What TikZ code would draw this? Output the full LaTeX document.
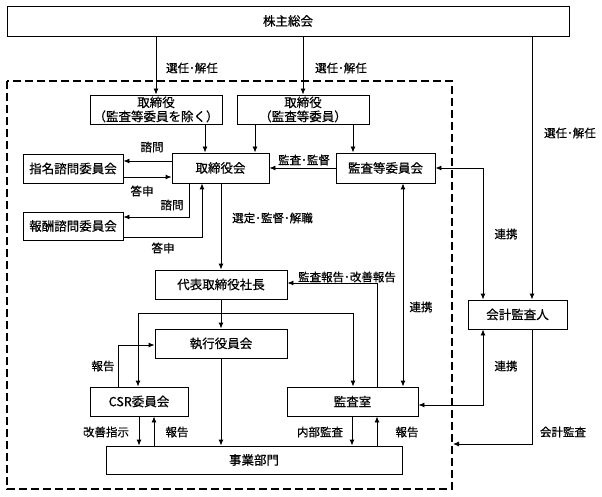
\documentclass[tikz,border=0pt]{standalone}
\usepackage{fontspec}
\setmainfont{Noto Sans CJK JP}[FakeBold=0.6]
\usetikzlibrary{arrows.meta}
\begin{document}
\begin{tikzpicture}[x=1pt,y=-1pt,
 box/.style={draw,line width=0.9pt,inner sep=0pt,font=\fontsize{12.5}{14}\selectfont,align=center},
 lbl/.style={font=\fontsize{11.5}{13}\selectfont,inner sep=0pt},
 arr/.style={line width=0.9pt,-{Latex[length=6pt,width=5pt]}},
 darr/.style={line width=0.9pt,{Latex[length=6pt,width=5pt]}-{Latex[length=6pt,width=5pt]}},
 frame/.style={line width=2pt,dash pattern=on 8pt off 4pt}]
\useasboundingbox (0,0) rectangle (602,497);
\fill[white] (0,0) rectangle (602,497);
% boxes
\node[box,minimum width=562,minimum height=30] (kabu) at (288,21) {株主総会};
\node[box,minimum width=132,minimum height=29] (tori1) at (156,109.5) {取締役\\（監査等委員を除く）};
\node[box,minimum width=132,minimum height=29] (tori2) at (303,109.5) {取締役\\（監査等委員）};
\node[box,minimum width=97,minimum height=30] (torikai) at (220.5,168) {取締役会};
\node[box,minimum width=100,minimum height=29] (shimei) at (73,168.5) {指名諮問委員会};
\node[box,minimum width=100,minimum height=28] (housyu) at (73,226) {報酬諮問委員会};
\node[box,minimum width=99,minimum height=30] (kansa) at (385.5,168) {監査等委員会};
\node[box,minimum width=132,minimum height=29] (daihyo) at (221,284.5) {代表取締役社長};
\node[box,minimum width=132,minimum height=29] (shikko) at (221,343.5) {執行役員会};
\node[box,minimum width=98,minimum height=29] (csr) at (139,401.5) {CSR委員会};
\node[box,minimum width=131,minimum height=29] (shitsu) at (352.5,401.5) {監査室};
\node[box,minimum width=296,minimum height=28] (jigyo) at (254,460) {事業部門};
\node[box,minimum width=99,minimum height=29] (kaikei) at (517.5,314.5) {会計監査人};
% dashed frame
\draw[frame] (7,81) rectangle (452,489);
% helper coordinates
\coordinate (xk) at (532,0);
\coordinate (x205) at (205,0);
\coordinate (x255) at (255,0);
\coordinate (x353) at (353,0);
\coordinate (y161) at (0,161);
\coordinate (y177) at (0,177);
\coordinate (x189) at (189,0);
\coordinate (y217) at (0,217);
\coordinate (x202) at (202,0);
\coordinate (y237) at (0,237);
\coordinate (x483) at (483,0);
\coordinate (x403) at (403,0);
\coordinate (y405) at (0,405);
\coordinate (audit) at (453,444);
\coordinate (x377) at (377,0);
\coordinate (y283) at (0,283);
\coordinate (y313) at (0,313);
\coordinate (x138) at (138,0);
\coordinate (x118) at (118,0);
\coordinate (y345) at (0,345);
\coordinate (x139) at (139,0);
\coordinate (x154) at (154,0);
\coordinate (x352) at (352,0);
% connectors
\draw[arr] (tori1.north |- kabu.south) -- (tori1.north);
\draw[arr] (tori2.north |- kabu.south) -- (tori2.north);
\draw[arr] (kabu.south -| xk) -- (kaikei.north -| xk);
\draw[arr] (tori1.south -| x205) -- (torikai.north -| x205);
\draw[arr] (tori2.south -| x255) -- (torikai.north -| x255);
\draw[arr] (tori2.south -| x353) -- (kansa.north -| x353);
\draw[arr] (torikai.west |- y161) -- (shimei.east |- y161);
\draw[arr] (shimei.east |- y177) -- (torikai.west |- y177);
\draw[arr] (torikai.south -| x189) -- (x189 |- y217) -- (housyu.east |- y217);
\draw[arr] (housyu.east |- y237) -- (x202 |- y237) -- (torikai.south -| x202);
\draw[arr] (kansa.west) -- (torikai.east);
\draw[arr] (torikai.south -| daihyo.north) -- (daihyo.north);
\draw[darr] (kansa.east) -- (kansa.east -| x483) -- (kaikei.north -| x483);
\draw[darr] (kansa.south -| x403) -- (shitsu.north -| x403);
\draw[darr] (kaikei.south -| x483) -- (x483 |- y405) -- (shitsu.east |- y405);
\draw[arr] (kaikei.south -| xk) -- (xk |- audit) -- (audit);
\draw[arr] (shitsu.north -| x377) -- (x377 |- y283) -- (daihyo.east |- y283);
\draw[arr] (daihyo.south) -- (shikko.north);
\coordinate (jn) at (daihyo.south |- y313);
\draw[arr] (jn) -- (x138 |- jn) -- (csr.north -| x138);
\draw[arr] (jn) -- (x353 |- jn) -- (shitsu.north -| x353);
\draw[arr] (csr.north -| x118) -- (x118 |- y345) -- (shikko.west |- y345);
\draw[arr] (csr.south -| x139) -- (jigyo.north -| x139);
\draw[arr] (jigyo.north -| x154) -- (csr.south -| x154);
\draw[arr] (shikko.south) -- (jigyo.north -| shikko.south);
\draw[arr] (shitsu.south -| x352) -- (jigyo.north -| x352);
\draw[arr] (jigyo.north -| x377) -- (shitsu.south -| x377);
% labels
\node[lbl] (l1) at (192,68) {選任･解任};
\node[lbl] (l2) at (341,68) {選任･解任};
\node[lbl] (l3) at (570,133) {選任･解任};
\node[lbl] (l4) at (152,147) {諮問};
\node[lbl] (l5) at (142,191) {答申};
\node[lbl] (l6) at (172,205) {諮問};
\node[lbl] (l7) at (163,248) {答申};
\node[lbl] (l8) at (304,160) {監査･監督};
\node[lbl] (l9) at (272.5,218) {選定･監督･解職};
\node[lbl] (l10) at (347,277) {監査報告･改善報告};
\node[lbl] (l11) at (506,234) {連携};
\node[lbl] (l12) at (421,307) {連携};
\node[lbl] (l13) at (506,366) {連携};
\node[lbl] (l14) at (103,366) {報告};
\node[lbl] (l15) at (106,432) {改善指示};
\node[lbl] (l16) at (177,432) {報告};
\node[lbl] (l17) at (320,432) {内部監査};
\node[lbl] (l18) at (407,432) {報告};
\node[lbl] (l19) at (563,432) {会計監査};
\end{tikzpicture}
\end{document}
